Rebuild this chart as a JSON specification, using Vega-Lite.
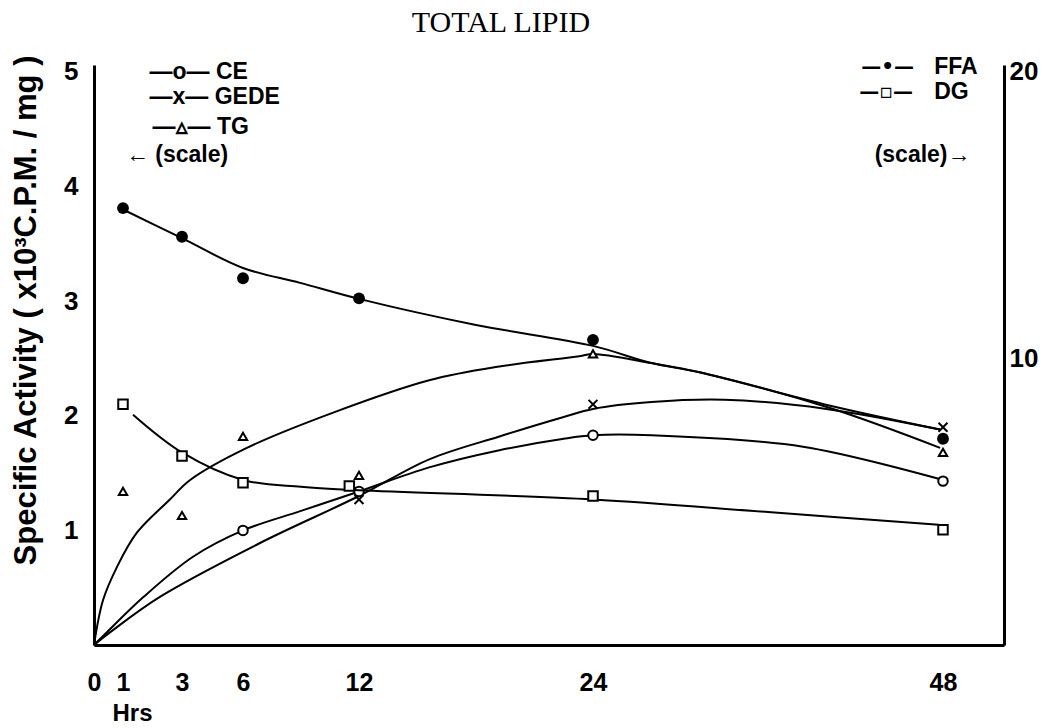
{
  "$schema": "https://vega.github.io/schema/vega-lite/v6.json",
  "width": 910,
  "height": 580,
  "autosize": {"type": "none"},
  "padding": {"left": 94, "top": 65, "right": 41, "bottom": 83},
  "background": "white",
  "config": {"view": {"stroke": null}},
  "title": {"text": "TOTAL LIPID", "font": "Liberation Serif", "fontSize": 30, "fontWeight": "normal", "color": "black", "anchor": "middle", "dx": -48, "offset": 16},
  "datasets": {
    "lcurves": [
      {"t": 0, "v": 0, "s": "CE"}, {"t": 0.4, "v": 0.1, "s": "CE"}, {"t": 1.7, "v": 0.42, "s": "CE"}, {"t": 3.54, "v": 0.77, "s": "CE"}, {"t": 6, "v": 1.0, "s": "CE"}, {"t": 9, "v": 1.17, "s": "CE"}, {"t": 12, "v": 1.34, "s": "CE"}, {"t": 15.6, "v": 1.55, "s": "CE"}, {"t": 19.2, "v": 1.7, "s": "CE"}, {"t": 22.5, "v": 1.8, "s": "CE"}, {"t": 24, "v": 1.83, "s": "CE"}, {"t": 28, "v": 1.83, "s": "CE"}, {"t": 38.4, "v": 1.73, "s": "CE"}, {"t": 47.7, "v": 1.45, "s": "CE"},
      {"t": 0, "v": 0, "s": "GEDE"}, {"t": 0.55, "v": 0.11, "s": "GEDE"}, {"t": 2.25, "v": 0.42, "s": "GEDE"}, {"t": 6.88, "v": 0.89, "s": "GEDE"}, {"t": 12, "v": 1.3, "s": "GEDE"}, {"t": 15.6, "v": 1.62, "s": "GEDE"}, {"t": 19.2, "v": 1.82, "s": "GEDE"}, {"t": 22.5, "v": 1.99, "s": "GEDE"}, {"t": 24, "v": 2.06, "s": "GEDE"}, {"t": 28, "v": 2.12, "s": "GEDE"}, {"t": 33, "v": 2.14, "s": "GEDE"}, {"t": 40, "v": 2.06, "s": "GEDE"}, {"t": 47.8, "v": 1.88, "s": "GEDE"},
      {"t": 0, "v": 0, "s": "TG"}, {"t": 0.31, "v": 0.39, "s": "TG"}, {"t": 0.79, "v": 0.68, "s": "TG"}, {"t": 1.47, "v": 0.98, "s": "TG"}, {"t": 2.59, "v": 1.27, "s": "TG"}, {"t": 3.4, "v": 1.44, "s": "TG"}, {"t": 6.2, "v": 1.72, "s": "TG"}, {"t": 10.7, "v": 2.03, "s": "TG"}, {"t": 15.6, "v": 2.31, "s": "TG"}, {"t": 19.2, "v": 2.43, "s": "TG"}, {"t": 23.3, "v": 2.52, "s": "TG"}, {"t": 24, "v": 2.54, "s": "TG"}, {"t": 28, "v": 2.46, "s": "TG"}, {"t": 31.3, "v": 2.38, "s": "TG"}, {"t": 40.2, "v": 2.07, "s": "TG"}, {"t": 47.8, "v": 1.72, "s": "TG"}
    ],
    "lmarks": [
      {"t": 6, "v": 1.0, "s": "CE"}, {"t": 12, "v": 1.34, "s": "CE"}, {"t": 24, "v": 1.83, "s": "CE"}, {"t": 48, "v": 1.43, "s": "CE"},
      {"t": 12, "v": 1.27, "s": "GEDE"}, {"t": 24, "v": 2.1, "s": "GEDE"}, {"t": 48, "v": 1.9, "s": "GEDE"},
      {"t": 1, "v": 1.34, "s": "TG"}, {"t": 3, "v": 1.13, "s": "TG"}, {"t": 6, "v": 1.82, "s": "TG"}, {"t": 12, "v": 1.48, "s": "TG"}, {"t": 24, "v": 2.54, "s": "TG"}, {"t": 48, "v": 1.68, "s": "TG"}
    ],
    "rcurves": [
      {"t": 1, "v": 15.2, "s": "FFA"}, {"t": 3, "v": 14.2, "s": "FFA"}, {"t": 6, "v": 13.16, "s": "FFA"}, {"t": 8.95, "v": 12.64, "s": "FFA"}, {"t": 12, "v": 12.08, "s": "FFA"}, {"t": 18, "v": 11.17, "s": "FFA"}, {"t": 24, "v": 10.44, "s": "FFA"}, {"t": 28, "v": 9.84, "s": "FFA"}, {"t": 31.3, "v": 9.52, "s": "FFA"}, {"t": 40.2, "v": 8.36, "s": "FFA"}, {"t": 47.8, "v": 7.52, "s": "FFA"},
      {"t": 1.34, "v": 8.04, "s": "DG"}, {"t": 3, "v": 6.72, "s": "DG"}, {"t": 6, "v": 5.76, "s": "DG"}, {"t": 9, "v": 5.52, "s": "DG"}, {"t": 12, "v": 5.4, "s": "DG"}, {"t": 24, "v": 5.08, "s": "DG"}, {"t": 36, "v": 4.64, "s": "DG"}, {"t": 47.7, "v": 4.2, "s": "DG"}
    ],
    "ffa": [
      {"t": 1, "v": 15.25}, {"t": 3, "v": 14.25}, {"t": 6, "v": 12.8}, {"t": 12, "v": 12.1}, {"t": 24, "v": 10.65}, {"t": 48, "v": 7.2}
    ],
    "dg": [
      {"t": 1, "v": 8.4}, {"t": 3, "v": 6.6}, {"t": 6, "v": 5.66}, {"t": 11.5, "v": 5.55}, {"t": 24, "v": 5.2}, {"t": 48, "v": 4.02}
    ],
    "one": [{}]
  },
  "layer": [
    {
      "layer": [
        {
          "data": {"name": "lcurves"},
          "mark": {"type": "line", "interpolate": "catmull-rom", "color": "black", "strokeWidth": 2},
          "encoding": {
            "x": {"field": "t", "type": "quantitative", "scale": {"domain": [0, 1, 3, 6, 12, 24, 48, 52.18], "range": [0, 29, 88, 149, 265, 499, 849, 910], "nice": false, "zero": false},
              "axis": {"orient": "bottom", "values": [0, 1, 3, 6, 12, 24, 48], "format": "d", "ticks": false, "grid": false, "domainColor": "black", "domainWidth": 3, "labelFont": "Liberation Sans", "labelFontWeight": "bold", "labelFontSize": 25, "labelColor": "black", "labelPadding": 37, "labelBaseline": "middle", "labelFlush": false, "labelOverlap": false,
                "title": "Hrs", "titleFont": "Liberation Sans", "titleFontWeight": "bold", "titleFontSize": 24, "titleColor": "black", "titleX": 38, "titleY": 68, "titleAlign": "center", "titleBaseline": "middle"}},
            "y": {"field": "v", "type": "quantitative", "scale": {"domain": [0, 5.061], "nice": false, "zero": false},
              "axis": {"orient": "left", "values": [1, 2, 3, 4, 5], "format": "d", "ticks": false, "grid": false, "domainColor": "black", "domainWidth": 3, "labelFont": "Liberation Sans", "labelFontWeight": "bold", "labelFontSize": 26, "labelColor": "black", "labelPadding": 16,
                "title": "Specific Activity ( x10³C.P.M. / mg )", "titleFont": "Liberation Sans", "titleFontWeight": "bold", "titleFontSize": 31, "titleColor": "black", "titleX": -68, "titleY": 245, "titleAlign": "center", "titleBaseline": "middle", "titleAngle": -90}},
            "detail": {"field": "s"}
          }
        },
        {
          "data": {"name": "lmarks"},
          "mark": {"type": "point", "filled": false, "stroke": "black", "strokeWidth": 2, "fill": "white", "fillOpacity": 1, "opacity": 1},
          "encoding": {
            "x": {"field": "t", "type": "quantitative"},
            "y": {"field": "v", "type": "quantitative"},
            "shape": {"field": "s", "type": "nominal", "scale": {"domain": ["CE", "GEDE", "TG"], "range": ["circle", "M-1,-1L1,1M-1,1L1,-1", "triangle-up"]}, "legend": null},
            "size": {"field": "s", "type": "nominal", "scale": {"domain": ["CE", "GEDE", "TG"], "range": [90, 70, 150]}, "legend": null}
          }
        },
        {
          "data": {"name": "one"},
          "mark": {"type": "text", "text": "—o— CE", "align": "left", "baseline": "middle", "font": "Liberation Sans", "fontWeight": "bold", "fontSize": 23, "color": "black"},
          "encoding": {"x": {"datum": 1.9, "type": "quantitative"}, "y": {"datum": 5.0, "type": "quantitative"}}
        },
        {
          "data": {"name": "one"},
          "mark": {"type": "text", "text": "—x— GEDE", "align": "left", "baseline": "middle", "font": "Liberation Sans", "fontWeight": "bold", "fontSize": 23, "color": "black"},
          "encoding": {"x": {"datum": 1.9, "type": "quantitative"}, "y": {"datum": 4.78, "type": "quantitative"}}
        },
        {
          "data": {"name": "one"},
          "mark": {"type": "text", "text": "—▵— TG", "align": "left", "baseline": "middle", "font": "Liberation Sans", "fontWeight": "bold", "fontSize": 23, "color": "black"},
          "encoding": {"x": {"datum": 2.0, "type": "quantitative"}, "y": {"datum": 4.52, "type": "quantitative"}}
        },
        {
          "data": {"name": "one"},
          "mark": {"type": "text", "text": "← (scale)", "align": "left", "baseline": "middle", "font": "Liberation Sans", "fontWeight": "bold", "fontSize": 23, "color": "black"},
          "encoding": {"x": {"datum": 1.1, "type": "quantitative"}, "y": {"datum": 4.28, "type": "quantitative"}}
        }
      ]
    },
    {
      "layer": [
        {
          "data": {"name": "rcurves"},
          "mark": {"type": "line", "interpolate": "catmull-rom", "color": "black", "strokeWidth": 2},
          "encoding": {
            "x": {"field": "t", "type": "quantitative"},
            "y": {"field": "v", "type": "quantitative", "scale": {"domain": [0, 20.244], "nice": false, "zero": false},
              "axis": {"orient": "right", "values": [10, 20], "format": "d", "ticks": false, "grid": false, "domainColor": "black", "domainWidth": 3, "labelFont": "Liberation Sans", "labelFontWeight": "bold", "labelFontSize": 26, "labelColor": "black", "labelPadding": 5, "title": null}},
            "detail": {"field": "s"}
          }
        },
        {
          "data": {"name": "dg"},
          "mark": {"type": "point", "shape": "square", "filled": false, "stroke": "black", "strokeWidth": 2, "fill": "white", "fillOpacity": 1, "opacity": 1, "size": 90},
          "encoding": {
            "x": {"field": "t", "type": "quantitative"},
            "y": {"field": "v", "type": "quantitative"}
          }
        },
        {
          "data": {"name": "ffa"},
          "mark": {"type": "point", "shape": "circle", "filled": true, "color": "black", "opacity": 1, "size": 140},
          "encoding": {
            "x": {"field": "t", "type": "quantitative"},
            "y": {"field": "v", "type": "quantitative"}
          }
        },
        {
          "data": {"name": "one"},
          "mark": {"type": "text", "text": "—•—", "align": "center", "baseline": "middle", "font": "DejaVu Sans", "fontWeight": "bold", "fontSize": 20, "color": "black"},
          "encoding": {"x": {"datum": 44.2, "type": "quantitative"}, "y": {"datum": 20.17, "type": "quantitative"}}
        },
        {
          "data": {"name": "one"},
          "mark": {"type": "text", "text": "FFA", "align": "left", "baseline": "middle", "font": "Liberation Sans", "fontWeight": "bold", "fontSize": 23, "color": "black"},
          "encoding": {"x": {"datum": 47.4, "type": "quantitative"}, "y": {"datum": 20.17, "type": "quantitative"}}
        },
        {
          "data": {"name": "one"},
          "mark": {"type": "text", "text": "—▫—", "align": "center", "baseline": "middle", "font": "DejaVu Sans", "fontWeight": "bold", "fontSize": 20, "color": "black"},
          "encoding": {"x": {"datum": 44.1, "type": "quantitative"}, "y": {"datum": 19.3, "type": "quantitative"}}
        },
        {
          "data": {"name": "one"},
          "mark": {"type": "text", "text": "DG", "align": "left", "baseline": "middle", "font": "Liberation Sans", "fontWeight": "bold", "fontSize": 23, "color": "black"},
          "encoding": {"x": {"datum": 47.4, "type": "quantitative"}, "y": {"datum": 19.3, "type": "quantitative"}}
        },
        {
          "data": {"name": "one"},
          "mark": {"type": "text", "text": "(scale)→", "align": "center", "baseline": "middle", "font": "Liberation Sans", "fontWeight": "bold", "fontSize": 23, "color": "black"},
          "encoding": {"x": {"datum": 46.6, "type": "quantitative"}, "y": {"datum": 17.1, "type": "quantitative"}}
        }
      ]
    }
  ],
  "resolve": {"scale": {"y": "independent"}, "axis": {"y": "independent"}}
}
